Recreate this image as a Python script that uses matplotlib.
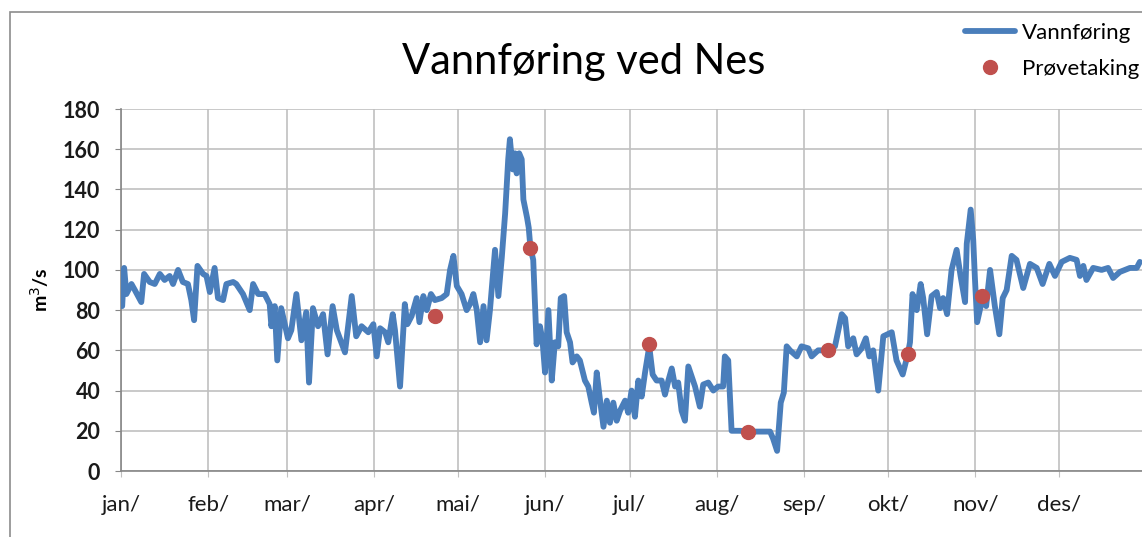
import matplotlib
matplotlib.use("Agg")
import matplotlib.pyplot as plt
from matplotlib.patches import Rectangle

plt.rcParams["font.family"] = ["Lato", "DejaVu Sans"]

# Daily flow (day of year, m3/s)
days = [0.4, 1.1, 1.9, 3.7, 4.9, 7.2, 8.2, 10.2, 12, 13.8, 15.5, 17.3, 18.5, 20.3, 22,
        23.8, 25, 26, 27.2, 29.2, 30.4, 31.6, 33.3, 34.5, 36.3, 37.5, 39.9, 41, 43.4,
        45.8, 47, 48.8, 51.1, 52.9, 53.5, 54.7, 55.6, 57, 59.4, 60.6, 62.4, 64.2, 65.9,
        66.9, 68.3, 70.1, 71.9, 73.5, 75.3, 76.8, 79.7, 82.1, 83.7, 85.6, 88, 89.8, 91,
        92.2, 94, 95.1, 96.7, 97.5, 99.3, 101, 101.9, 103.4, 105.2, 106.2, 107.6, 108.8,
        110.3, 111.7, 114.1, 115.9, 117.1, 118.3, 119.5, 121.2, 123, 124.2, 125.4, 126.6,
        127.8, 129, 130.1, 131.3, 133.1, 134.3, 135.5, 136.7, 137.8, 138.4, 139.4, 140.2,
        140.8, 141.7, 142.6, 143.2, 144.5, 145.1, 145.7, 146.7, 147.9, 149.1, 150, 150.9,
        152.1, 153.3, 154.4, 155.6, 156.5, 157.7, 158.6, 159.8, 160.7, 162.2, 163.3, 165.1,
        166.3, 167.5, 168.3, 169.3, 170.5, 171.7, 172.9, 174, 175.2, 176.4, 177.6, 179.4,
        180.5, 181.7, 182.9, 184.1, 185.3, 186.5, 188, 189.2, 190.6, 192.4, 193.6, 194.8,
        196, 197.2, 198.3, 199.5, 200.7, 201.9, 203.1, 204.3, 206, 207.2, 209, 210.8,
        212.5, 214.3, 214.9, 216.1, 217.3, 220.3, 223, 231, 232.1, 233.5, 234.8, 235.9,
        236.9, 238.1, 240.5, 242.2, 244.6, 245.8, 248.1, 251.7, 254.1, 256.5, 257.7, 258.8,
        260.6, 261.8, 263.6, 265.1, 266.3, 267.7, 269.5, 271.3, 274.3, 276, 278.2, 280,
        280.8, 281.7, 283.2, 284.6, 285.5, 286.9, 288.5, 290.3, 291.5, 292.6, 294, 295.6,
        297.4, 298.8, 300.4, 301, 302.4, 303.3, 303.9, 304.7, 306.6, 307.9, 309.3, 311,
        312.6, 313.8, 315.2, 317, 318.7, 321.1, 323.5, 325.9, 328, 330.4, 332.4, 334.8,
        337.7, 340.1, 341.3, 342.5, 343.6, 346, 349, 351.3, 353.1, 355.5, 357.3, 359.1,
        361.5, 362.6]
flow = [82, 101, 88, 93, 90, 84, 98, 94, 93, 98, 95, 97, 93, 100, 94,
        93, 85, 75, 102, 98, 97, 89, 101, 86, 85, 93, 94, 93, 88,
        80, 93, 88, 88, 83, 72, 82, 55, 81, 66, 70, 88, 65, 79,
        44, 81, 72, 78, 58, 82, 70, 59, 87, 67, 72, 69, 73, 57,
        71, 69, 64, 78, 70, 42, 83, 73, 77, 86, 74, 87, 80,
        88, 85, 86, 88, 100, 107, 92, 88, 80, 83, 88, 80,
        64, 82, 65, 80, 110, 87, 106, 128, 155, 165, 150, 158,
        148, 158, 155, 135, 126, 121, 111, 105, 63, 72, 65, 49,
        80, 45, 64, 62, 86, 87, 69, 64, 54, 57, 55, 45,
        42, 34, 29, 49, 35, 22, 35, 24, 34, 25, 30, 35,
        29, 40, 27, 45, 37, 49, 62, 48, 45, 45, 38, 45,
        51, 42, 44, 30, 25, 52, 47, 42, 32, 43, 44, 40,
        42, 42, 57, 55, 20, 20, 19.6, 19.6, 16, 10, 34, 39,
        62, 60, 57, 62, 61, 57, 60, 60, 62, 78, 76, 62,
        66, 58, 61, 66, 57, 60, 40, 67, 69, 55, 48, 58,
        64, 88, 80, 93, 86, 68, 87, 89, 81, 86, 78, 100,
        110, 97, 84, 113, 130, 115, 96, 74, 86, 82, 100, 82,
        68, 86, 90, 107, 105, 91, 103, 101, 93, 103, 97, 104,
        106, 105, 97, 102, 95, 101, 100, 101, 96, 99, 100, 101,
        101, 104]

# Sampling dates (day of year) and measured flow
sample_days = [111.7, 145.7, 188, 223, 251.7, 280, 306.6]
sample_flow = [77, 111, 63, 19.6, 60, 58, 87]

month_starts = [0, 31, 59, 90, 120, 151, 181, 212, 243, 273, 304, 334]
month_labels = ["jan/", "feb/", "mar/", "apr/", "mai/", "jun/",
                "jul/", "aug/", "sep/", "okt/", "nov/", "des/"]

fig = plt.figure(figsize=(11.42, 5.37), dpi=100)
ax = fig.add_axes([0.106, 0.1229, 0.898, 0.674])

# outer chart border
fig.patches.append(Rectangle((10 / 1142, -0.1), 1.2, 1.1 - 12 / 537,
                             transform=fig.transFigure, fill=False,
                             edgecolor="#8c8c8c", linewidth=1.2))

ax.plot(days, flow, color="#4A7EBB", linewidth=4.2, solid_joinstyle="round",
        solid_capstyle="round", label="Vannføring", zorder=3)
ax.plot(sample_days, sample_flow, "o", color="#C0504D", markersize=10,
        linestyle="none", label="Prøvetaking", zorder=4)

ax.set_xlim(0, 365)
ax.set_ylim(0, 180)
ax.set_yticks(range(0, 181, 20))
ax.set_xticks(month_starts)
ax.set_xticklabels(month_labels)

ax.grid(True, color="#C0C0C0", linewidth=1.2)
ax.set_axisbelow(True)
for side in ["top", "right"]:
    ax.spines[side].set_visible(False)
for side in ["left", "bottom"]:
    ax.spines[side].set_color("#868686")
    ax.spines[side].set_linewidth(1.2)

ax.tick_params(axis="x", length=4, color="#C0C0C0", pad=13, labelsize=16,
               labelcolor="#1a1a1a")
ax.tick_params(axis="y", length=4, color="#868686", pad=11, labelsize=15.5,
               labelcolor="#1a1a1a")
for lab in ax.get_yticklabels():
    lab.set_fontweight("bold")

fig.text(0.035, 0.46, "m$^3$/s", rotation=90, ha="center", va="center",
         fontsize=14, fontweight="bold")
fig.text(0.511, 0.885, "Vannføring ved Nes", ha="center", va="center",
         fontsize=30, color="black")

fig.legend(loc="upper left", bbox_to_anchor=(965 / 1142, 1 - 23 / 537),
           frameon=False, fontsize=16, handlelength=2.25, handletextpad=0.3,
           labelspacing=0.7, borderpad=0, borderaxespad=0)

fig.savefig("out.png", dpi=100)
